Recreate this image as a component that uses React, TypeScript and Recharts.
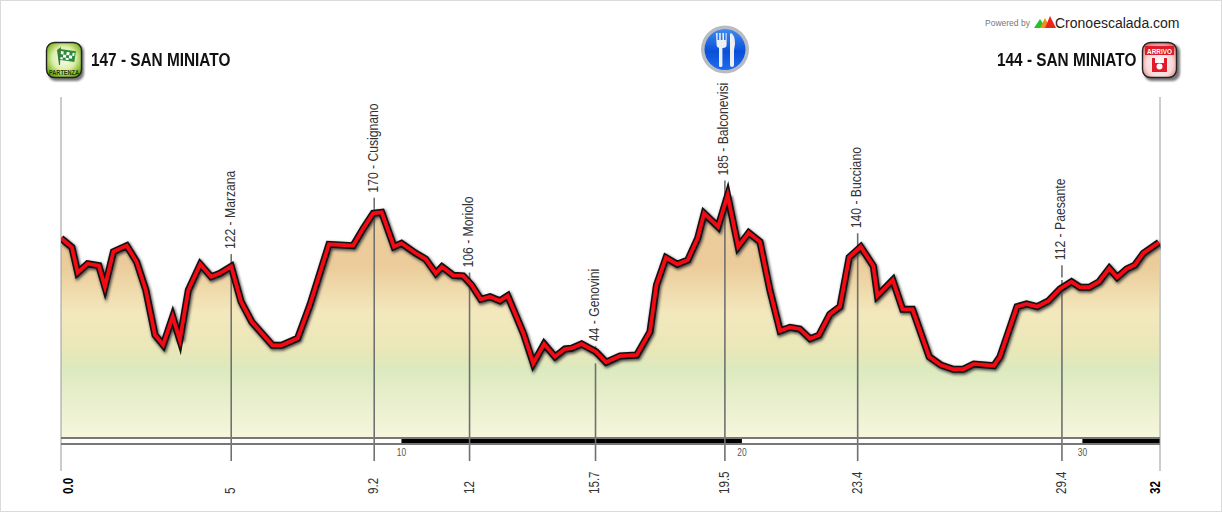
import React from "react";
import { ComposedChart, Area, Line, XAxis, YAxis, ReferenceLine, ReferenceArea } from "recharts";

const kms = [0,0.32,0.49,0.78,1.11,1.29,1.54,1.93,2.22,2.49,2.76,3.0,3.28,3.49,3.74,4.09,4.41,4.67,5.0,5.29,5.6,6.21,6.48,6.95,7.31,7.87,8.58,8.88,9.17,9.42,9.78,10.0,10.4,10.71,11.01,11.19,11.52,11.81,12.06,12.33,12.6,12.89,13.12,13.58,13.87,14.19,14.51,14.8,15.0,15.29,15.71,16.01,16.42,16.91,17.3,17.49,17.77,18.1,18.41,18.7,18.89,19.3,19.58,19.89,20.2,20.53,20.82,21.12,21.41,21.7,22.0,22.26,22.58,22.88,23.15,23.49,23.86,23.98,24.43,24.72,25.01,25.5,25.84,26.21,26.5,26.81,27.4,27.58,28.08,28.36,28.67,29.0,29.34,29.68,29.93,30.2,30.49,30.79,31.02,31.3,31.54,31.79,32.25];
const elevations = [146,138.6,117.9,125.2,123.6,106.4,135,139.9,126.8,103.8,67.1,59,82,63,103.8,124.7,114.6,117.4,123,94.2,77.9,58.7,58.7,64.4,91.5,141,139.9,154,166.2,167,139,141.8,134.1,129,117.4,122.7,115.7,115.2,107.8,96.2,98.3,95,99.1,68.5,44,59.8,49.4,55.7,56.3,59.8,53.5,44.9,50,50.8,69.8,107.8,130.1,124.7,128.2,145.9,166.2,155.3,181,139,150.4,143.1,103.8,70.4,73.4,72,64.1,66.9,84,90.2,130.4,139,123.3,99.1,111.9,88,88,49.4,42.7,39.2,39.2,43.5,42.1,49.4,90.2,92.4,90.2,94.8,104.6,110.5,106,106,110.5,121.4,114.1,120.9,124.1,133.7,142.5];

const poiKm = [5,9.2,12,15.7,19.5,23.4,29.4];
const poiElev = [122,170,106,44,185,140,112];
const poiNames = ["122 - Marzana","170 - Cusignano","106 - Moriolo","44 - Genovini","185 - Balconevisi","140 - Bucciano","112 - Paesante"];
const poiTickTop = [133,179,118,58,193,150,124];
const poiTickBottom = [122,170,106,55,185,140,114];
const tickLabels = ["5","9.2","12","15.7","19.5","23.4","29.4"];
const kmEnd = 32.28;
const bandStarts = [10,30];
const bandEnds = [20,32.28];
const bandLabels = ["10","20","30"];
const bandLabelKm = [10,20,30];

const data = kms.map((km, i) => ({ km, elev: elevations[i] }));
const SANS = "'Liberation Sans',Arial,sans-serif";
const SQ = 0.8;

const abs = (l: number, t: number, extra: any = {}) => ({ position: "absolute", left: l, top: t, whiteSpace: "nowrap", color: "#111", ...extra }) as React.CSSProperties;

function BottomTick(props: any) {
  const { x, payload } = props;
  const v = payload.value;
  const first = v === 0;
  const last = v === kmEnd;
  const i = poiKm.indexOf(v);
  const txt = first ? "0.0" : last ? "32" : tickLabels[i];
  const dx = first ? 7 : last ? -5 : -1;
  return (
    <text transform={`translate(${x + dx},494) rotate(-90) scale(${SQ},1)`} dominantBaseline="central" fontFamily={SANS}
      fontSize={14.5} fontWeight={first || last ? 700 : 400} fill={first || last ? "#000" : "#333"}>{txt}</text>
  );
}

const poiLabel = (name: string) => (props: any) => {
  const vb = props.viewBox || {};
  return (
    <text transform={`translate(${vb.x - 1.5},${vb.y - 5}) rotate(-90) scale(0.84,1)`} dominantBaseline="central" fontFamily={SANS}
      fontSize={14.5} fill="#333">{name}</text>
  );
};

function Icons() {
  return (
    <svg width={1222} height={512} style={{ position: "absolute", left: 0, top: 0 }}>
      <defs>
        <radialGradient id="gp" cx="50%" cy="45%" r="60%"><stop offset="0%" stopColor="#ffffff" /><stop offset="55%" stopColor="#dcefa8" /><stop offset="100%" stopColor="#6fa80c" /></radialGradient>
        <radialGradient id="ga" cx="50%" cy="60%" r="65%"><stop offset="0%" stopColor="#ffffff" /><stop offset="60%" stopColor="#f8d8d8" /><stop offset="100%" stopColor="#e06a6a" /></radialGradient>
        <linearGradient id="gb" x1="0" y1="0" x2="0" y2="1"><stop offset="0%" stopColor="#3f8cf0" /><stop offset="55%" stopColor="#0a4fd8" /><stop offset="100%" stopColor="#1f6cf0" /></linearGradient>
        <filter id="sh" x="-20%" y="-20%" width="150%" height="150%"><feGaussianBlur stdDeviation="1.2" /></filter>
      </defs>
      <rect x={48} y={44} width={36} height={37} rx={8} fill="#777" filter="url(#sh)" />
      <rect x={46.5} y={42.5} width={35} height={35} rx={8} fill="url(#gp)" stroke="#222" strokeWidth={1.4} />
      <rect x={59} y={50} width={16} height={11} fill="#2d8a3c" transform="rotate(8 67 57)" />
      <path d="M60 52h3v3h-3zM66 52h3v3h-3zM72 52h2v3h-2zM63 55h3v3h-3zM69 55h3v3h-3zM60 58h3v2h-3zM66 58h3v2h-3z" fill="#fff" transform="rotate(8 67 57)" />
      <path d="M57 50 L61 47 L60 65 L59 65 Z" fill="#3a7a3a" />
      <text transform="translate(64,75) scale(0.8,1)" textAnchor="middle" fontFamily={SANS} fontWeight={700} fontSize={7} fill="#1c3a00">PARTENZA</text>

      <rect x={1144} y={44} width={36} height={37} rx={8} fill="#777" filter="url(#sh)" />
      <rect x={1142.5} y={42.5} width={34} height={35} rx={8} fill="url(#ga)" stroke="#222" strokeWidth={1.4} />
      <rect x={1145} y={46} width={29} height={9} fill="#dd1c2c" />
      <text transform="translate(1159.5,53.5) scale(0.85,1)" textAnchor="middle" fontFamily={SANS} fontWeight={700} fontSize={7.5} fill="#fff">ARRIVO</text>
      <path d="M1152 58 L1155 58 L1155 63 L1164 63 L1164 58 L1167 58 L1167 72 L1152 72 Z" fill="#e21b2c" />
      <circle cx={1159.5} cy={66.5} r={3} fill="#fff" />

      <circle cx={725} cy={49.5} r={24} fill="#b8bcc2" />
      <circle cx={725} cy={49.5} r={20.5} fill="url(#gb)" />
      <rect x={719} y={44} width={3.4} height={23} rx={1.6} fill="#eef0f4" />
      <path d="M716 33 h1.6 v7 h1.6 v-7 h1.6 v7 h1.6 v-7 h1.6 v7 h1.6 v-7 h1 v12 q0 3 -4 3 h-2 q-4 0 -4 -3 z" fill="#eef0f4" />
      <path d="M731 33 q4 2 4 11 l-1 6 v15 q0 2 -2 2 q-2 0 -2 -2 v-30 q0 -2 1 -2 z" fill="#eef0f4" />

      <path d="M1034 28 L1040 19 L1046 28 Z" fill="#22c32a" />
      <path d="M1040 28 L1045 18 L1050 28 Z" fill="#f28c1c" />
      <path d="M1045 28 L1050 16 L1056 28 Z" fill="#e8261c" />
    </svg>
  );
}

const headStyle = { fontFamily: SANS, fontWeight: 700, fontSize: 18.5, lineHeight: "20px", transform: "scaleX(0.83)", transformOrigin: "left center" };

export default function App() {
  return (
    <div style={{ position: "absolute", left: 0, top: 0, width: 1222, height: 512, background: "#fff", overflow: "hidden" }}>
      <div style={{ position: "absolute", left: 0, top: 0, width: 1220, height: 510, border: "1px solid #dadada" }} />
      <div style={{ position: "absolute", left: 0, top: 0 }}>
        <ComposedChart width={1222} height={512} data={data} margin={{ top: 97, right: 62, bottom: 0, left: 61 }}>
          <defs>
            <linearGradient id="elevFill" gradientUnits="userSpaceOnUse" x1="0" y1="190" x2="0" y2="437">
              <stop offset="0" stopColor="#ecce9f" />
              <stop offset="0.3" stopColor="#ebcb99" />
              <stop offset="0.5" stopColor="#f3e8bd" />
              <stop offset="0.65" stopColor="#e9e7b8" />
              <stop offset="0.72" stopColor="#dce9be" />
              <stop offset="1" stopColor="#f6f6dd" />
            </linearGradient>
          </defs>
          <XAxis dataKey="km" type="number" domain={[0, kmEnd]} ticks={[0, ...poiKm, kmEnd]} interval={0}
            height={75} axisLine={false} tickLine={false} tick={<BottomTick />} allowDataOverflow />
          <YAxis type="number" domain={[-16, 261]} hide />
          <Area dataKey="elev" type="linear" baseValue={-16} fill="url(#elevFill)" fillOpacity={1} stroke="none" isAnimationActive={false} dot={false} activeDot={false} />

          <ReferenceLine segment={[{ x: 0, y: 261 }, { x: 0, y: -43.7 }]} stroke="#999" strokeWidth={1} ifOverflow="visible" />
          <ReferenceLine segment={[{ x: kmEnd, y: 261 }, { x: kmEnd, y: -43.7 }]} stroke="#999" strokeWidth={1} ifOverflow="visible" />
          {poiKm.map((k, i) => (
            <ReferenceLine key={"b" + i} segment={[{ x: k, y: poiElev[i] }, { x: k, y: -35.6 }]} stroke="#707070" strokeWidth={1.6} ifOverflow="visible" />
          ))}
          {poiKm.map((k, i) => (
            <ReferenceLine key={"t" + i} segment={[{ x: k, y: poiTickTop[i] }, { x: k, y: poiTickBottom[i] }]} stroke="#707070" strokeWidth={1.6} ifOverflow="visible" label={poiLabel(poiNames[i])} />
          ))}
          <ReferenceLine y={-16.8} stroke="#777" strokeWidth={2} ifOverflow="visible" />
          <ReferenceLine y={-21.7} stroke="#777" strokeWidth={2} ifOverflow="visible" />
          {bandStarts.map((s, i) => (
            <ReferenceArea key={"band" + i} x1={s} x2={bandEnds[i]} y1={-16.4} y2={-22.2} fill="#000" fillOpacity={1} stroke="none" ifOverflow="visible" />
          ))}
          {bandLabelKm.map((k, i) => (
            <ReferenceLine key={"bl" + i} segment={[{ x: k, y: -22 }, { x: k, y: -23 }]} stroke="none" ifOverflow="visible"
              label={(p: any) => <text transform={`translate(${p.viewBox.x},456) scale(0.8,1)`} textAnchor="middle" fontFamily={SANS} fontSize={10.5} fill="#555">{bandLabels[i]}</text>} />
          ))}

          <Line dataKey="elev" type="linear" stroke="#444" strokeWidth={7.5} dot={false} activeDot={false} isAnimationActive={false} legendType="none" style={{ filter: "blur(1.5px)", transform: "translate(1px,1.5px)" }} />
          <Line dataKey="elev" type="linear" stroke="#111" strokeWidth={7} strokeLinejoin="miter" strokeMiterlimit={6} dot={false} activeDot={false} isAnimationActive={false} legendType="none" />
          <Line dataKey="elev" type="linear" stroke="#f20a14" strokeWidth={3.8} strokeLinejoin="miter" strokeMiterlimit={6} dot={false} activeDot={false} isAnimationActive={false} legendType="none" />
        </ComposedChart>
      </div>
      <Icons />
      <div style={abs(91, 49.5, headStyle)}>147 - SAN MINIATO</div>
      <div style={abs(997, 49.5, headStyle)}>144 - SAN MINIATO</div>
      <div style={abs(985, 18, { fontFamily: SANS, fontSize: 8.5, lineHeight: "10px", color: "#777" })}>Powered by</div>
      <div style={abs(1055, 15, { fontFamily: SANS, fontSize: 14, lineHeight: "16px", color: "#222" })}>Cronoescalada.com</div>
    </div>
  );
}
